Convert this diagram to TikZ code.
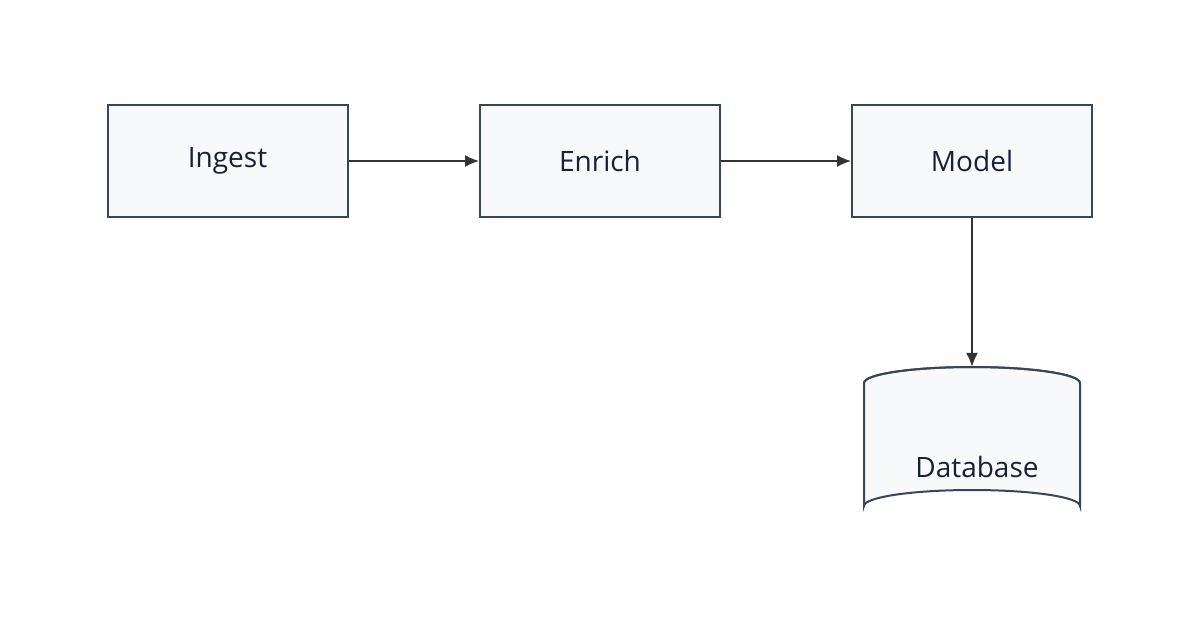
\documentclass[tikz,border=0pt]{standalone}
\usepackage{fontspec}
\setmainfont{Open Sans}
\usetikzlibrary{arrows.meta}
\definecolor{edge}{HTML}{3A4656}
\definecolor{boxfill}{HTML}{F7F9FB}
\definecolor{txt}{HTML}{1A2033}
\begin{document}
\begin{tikzpicture}[x=1pt,y=-1pt,
  box/.style={draw=edge,fill=boxfill,line width=2pt,minimum width=240pt,minimum height=112pt,inner sep=0pt,font=\fontsize{28}{32}\selectfont,text=txt},
  conn/.style={draw=black!80,line width=1.5pt,-{Latex[length=14pt,width=12pt]}}]
\useasboundingbox[fill=white] (0,0) rectangle (1200,630);
\node[box] (ingest) at (227.5,161) {Ingest};
\node[box] (enrich) at (600,161) {Enrich};
\node[box] (model) at (972,161) {Model};
% database cylinder
\filldraw[draw=edge,fill=boxfill,line width=2pt] (864,383) -- (864,506) arc[start angle=180,end angle=360,x radius=108,y radius=16] -- (1080,383) arc[start angle=0,end angle=-180,x radius=108,y radius=16];
\draw[edge,line width=2pt] (864,383) arc[start angle=180,end angle=360,x radius=108,y radius=16];
\node[minimum width=216pt,minimum height=155pt,inner sep=0pt,font=\fontsize{28}{32}\selectfont,text=txt] (db) at (972,444.5) {};
\node[font=\fontsize{28}{32}\selectfont,text=txt] (dbl) at (977,467) {Database};
\draw[conn] (ingest) -- (enrich);
\draw[conn] (enrich) -- (model);
\draw[conn] (model) -- (db);
\end{tikzpicture}
\end{document}
